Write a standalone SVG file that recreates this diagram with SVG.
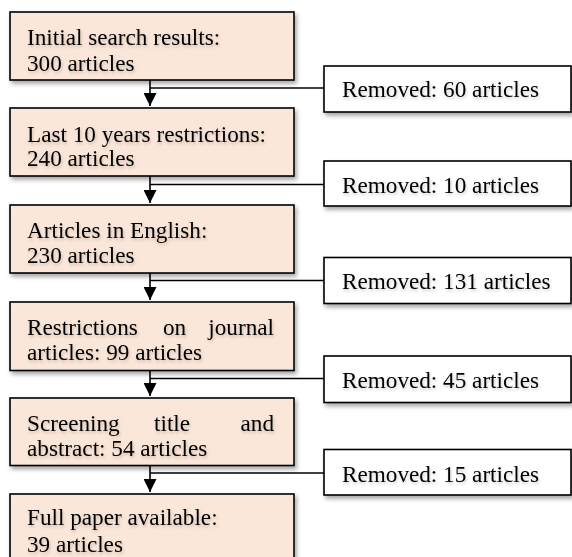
<svg xmlns="http://www.w3.org/2000/svg" width="572" height="557" viewBox="0 0 572 557">
<defs>
<filter id="sh" x="-10%" y="-20%" width="130%" height="150%">
<feDropShadow dx="2" dy="3" stdDeviation="2" flood-color="#000" flood-opacity="0.35"/>
</filter>
<filter id="tsh" x="-5%" y="-30%" width="115%" height="170%">
<feDropShadow dx="1" dy="2" stdDeviation="1.5" flood-color="#000" flood-opacity="0.2"/>
</filter>
<marker id="ah" viewBox="0 0 13 13" refX="13" refY="6.5" markerWidth="13" markerHeight="13" markerUnits="userSpaceOnUse" orient="auto">
<path d="M0,0 L13,6.5 L0,13 Z" fill="#000"/>
</marker>
</defs>
<style>
.step{fill:#FBE7D9;stroke:#000;stroke-width:1.6;filter:url(#sh)}
.rem{fill:#fff;stroke:#000;stroke-width:1.6;filter:url(#sh)}
text{font-family:"Liberation Serif","Times New Roman",serif;font-size:23.2px;fill:#000;filter:url(#tsh)}
.ln{fill:none;stroke:#000;stroke-width:1.6}
</style>
<g id="connectors">
<line class="ln" x1="150" y1="80" x2="150" y2="106" marker-end="url(#ah)"/>
<line class="ln" x1="150" y1="88" x2="324" y2="88"/>
<line class="ln" x1="150" y1="176" x2="150" y2="203" marker-end="url(#ah)"/>
<line class="ln" x1="150" y1="184.5" x2="324" y2="184.5"/>
<line class="ln" x1="150" y1="273" x2="150" y2="300" marker-end="url(#ah)"/>
<line class="ln" x1="150" y1="280.5" x2="324" y2="280.5"/>
<line class="ln" x1="150" y1="370.5" x2="150" y2="396" marker-end="url(#ah)"/>
<line class="ln" x1="150" y1="378.5" x2="324" y2="378.5"/>
<line class="ln" x1="150" y1="465.5" x2="150" y2="492" marker-end="url(#ah)"/>
<line class="ln" x1="150" y1="473" x2="324" y2="473"/>
</g>
<g id="n1">
<rect class="step" x="10" y="12" width="284" height="68"/>
<text x="27" y="44.5">Initial search results:</text>
<text x="27" y="70.5">300 articles</text>
</g>
<g id="n2">
<rect class="step" x="10" y="108" width="284" height="68"/>
<text x="27" y="141.5">Last 10 years restrictions:</text>
<text x="27" y="165.5">240 articles</text>
</g>
<g id="n3">
<rect class="step" x="10" y="205" width="284" height="68"/>
<text x="27" y="238">Articles in English:</text>
<text x="27" y="262.5">230 articles</text>
</g>
<g id="n4">
<rect class="step" x="10" y="302" width="284" height="68.5"/>
<text x="27" y="335">Restrictions</text>
<text x="163" y="335">on</text>
<text x="274" y="335" text-anchor="end">journal</text>
<text x="27" y="360">articles: 99 articles</text>
</g>
<g id="n5">
<rect class="step" x="10" y="398" width="284" height="67.5"/>
<text x="27" y="431">Screening</text>
<text x="154" y="431">title</text>
<text x="274" y="431" text-anchor="end">and</text>
<text x="27" y="456">abstract: 54 articles</text>
</g>
<g id="n6">
<rect class="step" x="10" y="494" width="284" height="80"/>
<text x="27" y="525">Full paper available:</text>
<text x="27" y="551.5">39 articles</text>
</g>
<g id="r1">
<rect class="rem" x="324" y="66" width="247" height="46"/>
<text x="342" y="97">Removed: 60 articles</text>
</g>
<g id="r2">
<rect class="rem" x="324" y="161" width="247" height="45"/>
<text x="342" y="193">Removed: 10 articles</text>
</g>
<g id="r3">
<rect class="rem" x="324" y="257.5" width="247" height="46"/>
<text x="342" y="289">Removed: 131 articles</text>
</g>
<g id="r4">
<rect class="rem" x="324" y="356" width="247" height="46.5"/>
<text x="342" y="387.5">Removed: 45 articles</text>
</g>
<g id="r5">
<rect class="rem" x="324" y="449.5" width="247" height="45.5"/>
<text x="342" y="481.5">Removed: 15 articles</text>
</g>
</svg>
